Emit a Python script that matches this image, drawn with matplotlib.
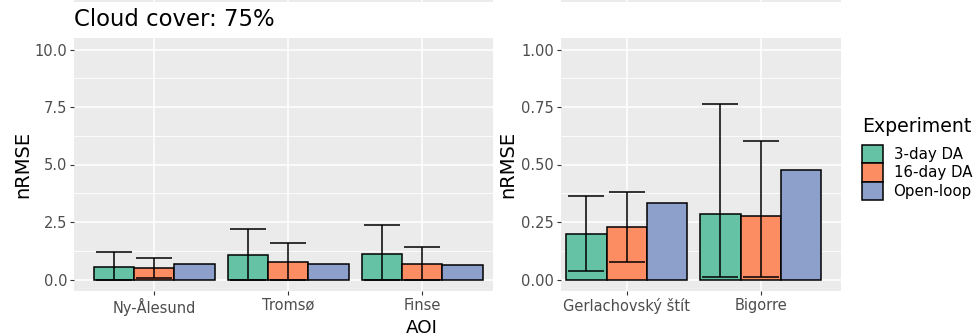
import numpy as np
import matplotlib
matplotlib.use('Agg')
import matplotlib.pyplot as plt
from matplotlib.patches import Patch

# nRMSE per AOI and experiment, with error bar limits
experiments = ['3-day DA', '16-day DA', 'Open-loop']
colors = ['#66C2A5', '#FC8D62', '#8DA0CB']

aoi_left = ['Ny-Ålesund', 'Tromsø', 'Finse']
left_mean = [[0.55, 1.06, 1.09],   # 3-day DA
             [0.51, 0.77, 0.66],   # 16-day DA
             [0.68, 0.68, 0.61]]   # Open-loop
left_lo = [[0.0, 0.0, 0.0],
           [0.07, 0.0, 0.0]]
left_hi = [[1.18, 2.21, 2.36],
           [0.94, 1.59, 1.41]]

aoi_right = ['Gerlachovský štít', 'Bigorre']
right_mean = [[0.200, 0.283],
              [0.228, 0.275],
              [0.331, 0.477]]
right_lo = [[0.036, 0.010],
            [0.078, 0.010]]
right_hi = [[0.365, 0.761],
            [0.379, 0.602]]

BG = '#EBEBEB'
W, H = 975, 336
BAR_W = 0.3
TICK_FS = 10.5


def fx(px):
    return px / W


def fy(px):
    return 1 - px / H


def style_axes(ax, yticks, fmt, minor):
    ax.set_facecolor(BG)
    for s in ax.spines.values():
        s.set_visible(False)
    ax.set_yticks(yticks)
    ax.set_yticklabels([fmt.format(t) for t in yticks])
    ax.set_yticks(minor, minor=True)
    ax.tick_params(axis='y', which='minor', length=0)
    ax.grid(which='major', color='white', linewidth=1.1)
    ax.grid(which='minor', axis='y', color='white', linewidth=0.6)
    ax.set_axisbelow(True)
    ax.tick_params(which='major', length=3, width=0.8, color='#333333',
                   labelcolor='#4D4D4D', labelsize=TICK_FS, pad=2)


def draw_panel(ax, labels, means, lo, hi):
    x = np.arange(1, len(labels) + 1)
    for i, name in enumerate(experiments):
        xs = x + (i - 1) * BAR_W
        ax.bar(xs, means[i], BAR_W, color=colors[i], edgecolor='black',
               linewidth=1.1, zorder=2)
        if i < len(lo):
            m = np.array(means[i])
            yerr = [m - np.array(lo[i]), np.array(hi[i]) - m]
            ax.errorbar(xs, m, yerr=yerr, fmt='none', ecolor='black',
                        elinewidth=1.1, capsize=13, capthick=1.1, zorder=3)
    ax.set_xticks(x)
    ax.set_xticklabels(labels)


fig = plt.figure(figsize=(W / 100, H / 100), dpi=100)

# left panel
ax1 = fig.add_axes([fx(74), fy(291), fx(493 - 74), (291 - 38) / H])
draw_panel(ax1, aoi_left, left_mean, left_lo, left_hi)
style_axes(ax1, [0, 2.5, 5, 7.5, 10], '{:.1f}', [1.25, 3.75, 6.25, 8.75])
ax1.set_xlim(0.4, 3.528)
ax1.set_ylim(-0.5, 10.5)

# right panel
ax2 = fig.add_axes([fx(561), fy(291), fx(841 - 561), (291 - 38) / H])
draw_panel(ax2, aoi_right, right_mean, right_lo, right_hi)
style_axes(ax2, [0, 0.25, 0.5, 0.75, 1.0], '{:.2f}', [0.125, 0.375, 0.625, 0.875])
ax2.set_xlim(0.51, 2.6)
ax2.set_ylim(-0.05, 1.05)

# edges of the panels above
for left, right, xlim, n in [(74, 493, (0.4, 3.528), 3), (561, 841, (0.51, 2.6), 2)]:
    axt = fig.add_axes([fx(left), fy(1.5), fx(right - left), 1.5 / H])
    axt.set_facecolor(BG)
    axt.set_xlim(*xlim)
    for k in range(1, n + 1):
        axt.axvline(k, color='white', linewidth=1.1)
    axt.set_xticks([])
    axt.set_yticks([])
    for s in axt.spines.values():
        s.set_visible(False)

fig.text(fx(74), fy(26), 'Cloud cover: 75%', fontsize=16.4, va='baseline', ha='left')
fig.text(fx(22.5), fy(164.5), 'nRMSE', fontsize=14, rotation=90, va='center', ha='center')
fig.text(fx(508), fy(164.5), 'nRMSE', fontsize=14, rotation=90, va='center', ha='center')
fig.text(fx(422), fy(333), 'AOI', fontsize=13.2, va='baseline', ha='center')

# legend: title as separate text so the gap above the keys can be set
fig.text(fx(862), fy(132), 'Experiment', fontsize=13.6, va='baseline', ha='left')
handles = [Patch(facecolor=c, edgecolor='black', linewidth=1.1) for c in colors]
fig.legend(handles, experiments, loc='upper left',
           bbox_to_anchor=(fx(862), fy(145)), frameon=False,
           fontsize=10.8, handlelength=1.4, handleheight=1.5,
           labelspacing=0.0, handletextpad=0.7,
           borderpad=0.0, borderaxespad=0.0)

fig.savefig('out.png', dpi=100, facecolor='white')
